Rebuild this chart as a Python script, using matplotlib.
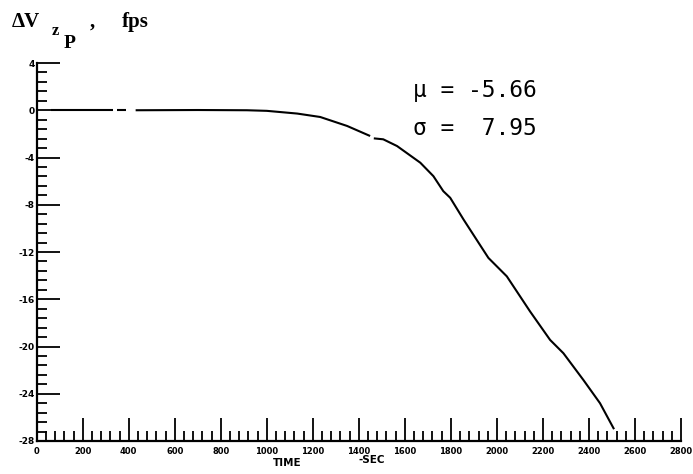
import numpy as np
import matplotlib
matplotlib.use("Agg")
import matplotlib.pyplot as plt

plt.rcParams['axes.unicode_minus'] = False

# ---- data ----
t_seg1 = [60, 330]
v_seg1 = [0.0, 0.0]
t_seg2 = [350, 390]
v_seg2 = [0.0, 0.0]
t_seg3 = [430, 700, 914, 1000, 1132, 1232, 1349, 1449]
v_seg3 = [0.0, 0.02, 0.0, -0.05, -0.28, -0.57, -1.33, -2.18]
t_seg4 = [1465, 1506, 1566, 1667, 1724, 1767, 1797, 1855, 1935, 1963,
          2043, 2144, 2231, 2289, 2376, 2448, 2509]
v_seg4 = [-2.38, -2.46, -3.03, -4.44, -5.58, -6.85, -7.41, -9.25, -11.66, -12.5,
          -14.06, -17.03, -19.44, -20.57, -22.84, -24.8, -27.0]

x_ticks = list(range(0, 2801, 200))
x_ticklabels = [str(v) for v in x_ticks]
y_ticks = list(range(-28, 5, 4))
y_ticklabels = [str(v) for v in y_ticks]

mu_text = "\u03bc = -5.66"
sigma_text = "\u03c3 =  7.95"

# ---- figure ----
W, H = 693, 474
fig = plt.figure(figsize=(W / 100, H / 100), dpi=100)

def fx(px):
    return px / W

def fy(py):
    return 1 - py / H

x0, x1 = 36.7, 681.0
ytop, ybot = 63.0, 441.0
ax = fig.add_axes([fx(x0), fy(ybot), (x1 - x0) / W, (ybot - ytop) / H])
ax.set_xlim(0, 2800)
ax.set_ylim(-28, 4)

for s in ('top', 'right'):
    ax.spines[s].set_visible(False)
for s in ('left', 'bottom'):
    ax.spines[s].set_linewidth(1.6)
    ax.spines[s].set_color('black')

for t, v in ((t_seg1, v_seg1), (t_seg2, v_seg2), (t_seg3, v_seg3), (t_seg4, v_seg4)):
    ax.plot(t, v, color='black', lw=1.5, solid_capstyle='butt', clip_on=False)

ax.set_xticks(x_ticks)
ax.set_xticklabels(x_ticklabels, fontsize=6, fontweight='bold')
ax.set_xticks(np.arange(0, 2801, 40), minor=True)
ax.set_yticks(y_ticks)
ax.set_yticklabels(y_ticklabels, fontsize=6.5, fontweight='bold')
ax.set_yticks(np.arange(-28, 4.01, 0.8), minor=True)

ax.tick_params(which='major', direction='in', length=16.5, width=1.3, color='black')
ax.tick_params(which='minor', direction='in', length=7.2, width=1.3, color='black')
ax.tick_params(axis='x', which='major', pad=4)
ax.tick_params(axis='y', which='major', pad=1.5)

# axis label pieces
fig.text(fx(287), fy(463), "TIME", ha='center', va='center', fontsize=7.5,
         fontweight='bold')
fig.text(fx(372), fy(460), "-SEC", ha='center', va='center', fontsize=7.5,
         fontweight='bold')

# title: Delta V_{z_P}, fps
serif = 'Liberation Serif'
fig.text(fx(12), fy(27), "\u0394V", fontsize=15, family=serif, fontweight='bold',
         ha='left', va='baseline')
fig.text(fx(52), fy(35), "z", fontsize=12, family=serif, fontweight='bold',
         ha='left', va='baseline')
fig.text(fx(64), fy(48), "P", fontsize=14, family=serif, fontweight='bold',
         ha='left', va='baseline')
fig.text(fx(90), fy(27), ",", fontsize=15, family=serif, fontweight='bold',
         ha='left', va='baseline')
fig.text(fx(122), fy(27), "fps", fontsize=15, family=serif, fontweight='bold',
         ha='left', va='baseline')

# statistics
fig.text(fx(413), fy(97), mu_text, fontsize=16.5, family='DejaVu Sans Mono',
         ha='left', va='baseline')
fig.text(fx(413), fy(135), sigma_text, fontsize=16.5, family='DejaVu Sans Mono',
         ha='left', va='baseline')

fig.savefig("out.png", dpi=100)
